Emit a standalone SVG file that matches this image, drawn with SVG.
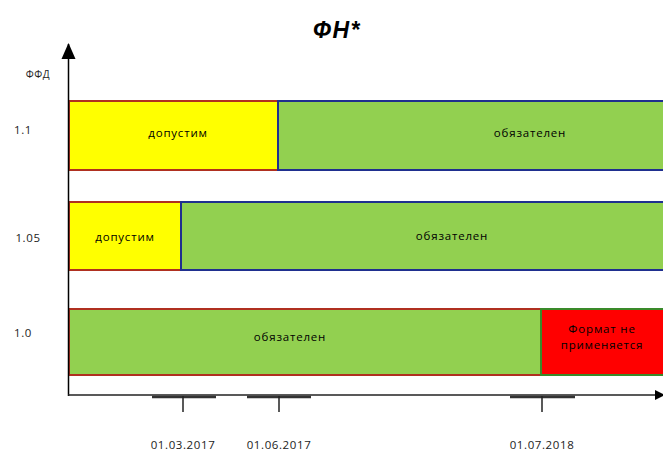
<svg xmlns="http://www.w3.org/2000/svg" width="663" height="453" viewBox="0 0 663 453">
<style>
.lbl{font-family:"Open Sans","Liberation Sans",sans-serif;font-size:11.5px;letter-spacing:0.8px;fill:#000;text-anchor:middle}
.axl{font-family:"Open Sans","Liberation Sans",sans-serif;font-size:11.5px;letter-spacing:0.6px;fill:#222;text-anchor:middle}
.yel{fill:#ffff00;stroke:#b03020;stroke-width:2}
.grn{fill:#92d050;stroke:#1f2f8f;stroke-width:2}
.grn2{fill:#92d050;stroke:#b03020;stroke-width:2}
.red{fill:#ff0000;stroke:#3a8a2a;stroke-width:2}
.tick{stroke:#222;stroke-width:1.5}
.seg{stroke:#333;stroke-width:2.5}
</style>
<defs>
<marker id="ah" markerWidth="10" markerHeight="10" refX="8" refY="5" orient="auto" markerUnits="userSpaceOnUse">
<path d="M0,0 L10,5 L0,10 Z" fill="#000"/>
</marker>
<marker id="ahv" markerWidth="16" markerHeight="16" refX="15" refY="8" orient="auto" markerUnits="userSpaceOnUse">
<path d="M0,1 L16,8 L0,15 Z" fill="#000"/>
</marker>
</defs>
<text x="337" y="38" style="font-family:'Liberation Sans',Arial,sans-serif;font-size:23px;font-weight:bold;font-style:italic;letter-spacing:1.5px" text-anchor="middle">ФН*</text>

<g id="row-1-1">
<rect class="yel" x="69" y="101" width="209" height="69"/>
<rect class="grn" x="278" y="101" width="390" height="69"/>
<text class="lbl" x="178" y="137">допустим</text>
<text class="lbl" x="530" y="137">обязателен</text>
</g>
<g id="row-1-05">
<rect class="yel" x="69" y="202" width="112" height="68"/>
<rect class="grn" x="181" y="202" width="487" height="68"/>
<text class="lbl" x="125" y="241">допустим</text>
<text class="lbl" x="452" y="240">обязателен</text>
</g>
<g id="row-1-0">
<rect class="grn2" x="69" y="309" width="472" height="66"/>
<rect class="red" x="541" y="309" width="127" height="66"/>
<text class="lbl" x="290" y="341">обязателен</text>
<text class="lbl" x="602" y="333">Формат не</text>
<text class="lbl" x="602" y="349">применяется</text>
</g>

<g id="connectors">
<line x1="68.5" y1="396" x2="68.5" y2="44" stroke="#000" stroke-width="1.5" marker-end="url(#ahv)"/>
<line x1="68" y1="395" x2="663" y2="395" stroke="#222" stroke-width="1.5" marker-end="url(#ah)"/>
<line class="seg" x1="152" y1="397" x2="216" y2="397"/>
<line class="seg" x1="247" y1="397" x2="311" y2="397"/>
<line class="seg" x1="510" y1="397" x2="575" y2="397"/>
<line class="tick" x1="183" y1="396" x2="183" y2="412"/>
<line class="tick" x1="279" y1="396" x2="279" y2="412"/>
<line class="tick" x1="542" y1="396" x2="542" y2="412"/>
</g>

<g id="labels">
<text class="axl" x="38" y="78" style="font-size:10px">ФФД</text>
<text class="axl" x="23" y="134">1.1</text>
<text class="axl" x="28" y="242">1.05</text>
<text class="axl" x="23" y="337">1.0</text>
<text class="axl" x="183" y="449">01.03.2017</text>
<text class="axl" x="279" y="449">01.06.2017</text>
<text class="axl" x="542" y="449">01.07.2018</text>
</g>
</svg>
